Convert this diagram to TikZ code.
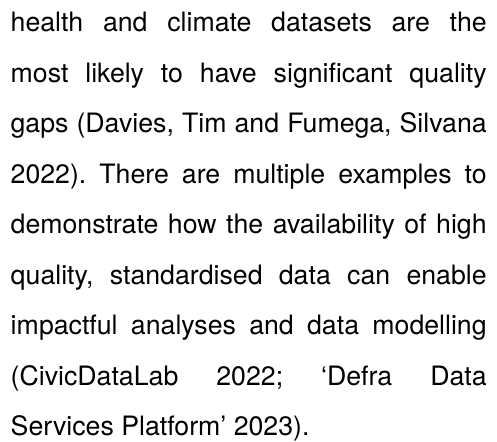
\documentclass[tikz,border=0pt]{standalone}
\usepackage{fontspec}
\setmainfont{TeX Gyre Heros}
\usepackage{tikz}
\usepackage{xcolor}
\tikzset{
    page-box/.style = {inner sep=0pt, outer sep=0pt},
    body-text/.style = {inner sep=0pt, anchor=base west, text=black},
}

\begin{document}
\begin{tikzpicture}
\useasboundingbox (0pt,0pt) rectangle (497pt,-441pt);
\node [body-text] (para) at (10.5pt,-31.7pt) {\begin{minipage}[t]{476pt}
    \fontsize{26.7pt}{50.5pt}\selectfont\frenchspacing\tolerance=10000\hyphenpenalty=10000
    health and climate datasets are the\linebreak
    most likely to have significant quality\linebreak
    gaps (Davies, Tim and Fumega, Silvana\linebreak
    2022). There are multiple examples to\linebreak
    demonstrate how the availability of high\linebreak
    quality, standardised data can enable\linebreak
    impactful analyses and data modelling\linebreak
    (CivicDataLab 2022; ‘Defra Data\linebreak
    Services Platform’ 2023).
\end{minipage}};
\end{tikzpicture}
\end{document}
